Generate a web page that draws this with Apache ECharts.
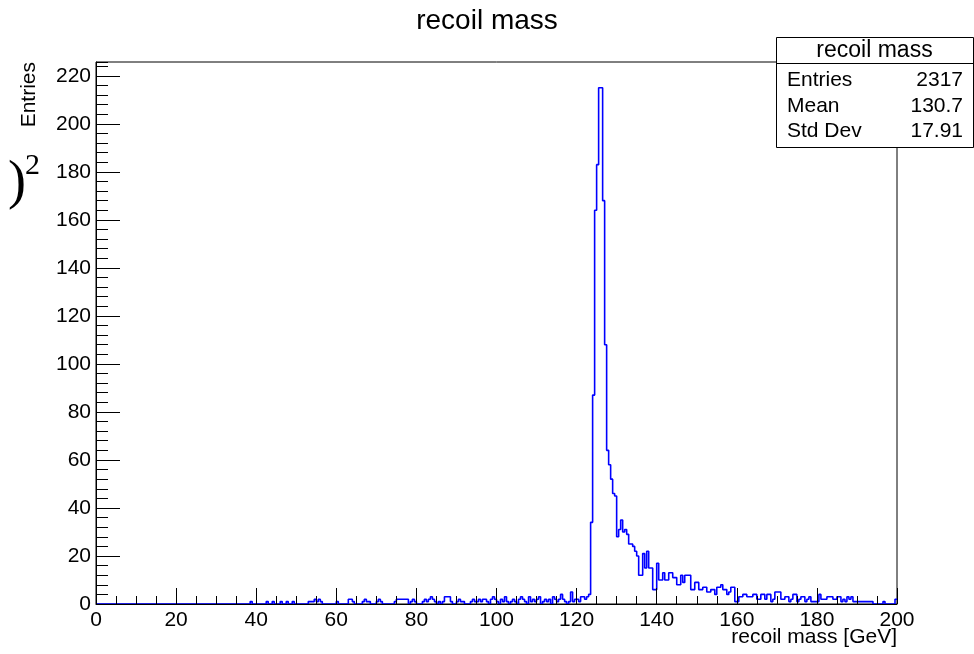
<!DOCTYPE html>
<html>
<head>
<meta charset="utf-8">
<script src="https://cdn.jsdelivr.net/npm/echarts@6/dist/echarts.min.js"></script>
<style>html,body{margin:0;padding:0;background:#fff;}#c{width:974px;height:654px;}</style>
</head>
<body>
<div id="c"></div>
<script>
// Histogram: 400 bins of 0.5 GeV from 0 to 200 GeV
const binWidth = 0.5;
const xStart = 0;
const binCounts = [
  // 0-10
  0,0,0,0,0,0,0,0,0,0,0,0,0,0,0,0,0,0,0,0,
  // 10-20
  0,0,0,0,0,0,0,0,0,0,0,0,0,0,0,0,0,0,0,0,
  // 20-30
  0,0,0,0,0,0,0,0,0,0,0,0,0,0,0,0,0,0,0,0,
  // 30-40
  0,0,0,0,0,0,0,0,0,0,0,0,0,0,0,0,0,1,0,0,
  // 40-50
  0,0,0,0,0,1,0,0,1,0,0,0,1,0,0,1,0,0,1,0,
  // 50-60
  0,0,0,0,0,0,1,1,1,2,1,2,1,0,0,0,0,0,0,0,
  // 60-70
  1,0,0,0,0,0,2,2,1,0,0,0,0,1,2,1,1,0,0,0,
  // 70-80
  1,2,1,0,0,0,0,0,0,1,2,2,2,2,2,2,0,1,2,1,
  // 80-90
  0,0,0,1,2,1,2,3,2,1,0,1,0,1,3,3,3,1,0,0,
  // 90-100
  1,2,1,1,0,0,0,1,2,1,1,2,1,2,2,1,0,2,3,2,
  // 100-110
  1,0,2,1,3,1,0,1,2,1,0,2,3,2,1,0,3,1,2,1,
  // 110-120
  2,3,0,1,2,1,2,0,3,2,1,2,4,2,1,0,1,5,1,2,
  // 120-130
  2,1,3,3,2,3,4,34,87,164,183,215,215,168,108,64,58,52,46,45,
  // 130-140
  28,31,35,30,31,29,25,25,24,22,20,12,12,21,15,22,15,15,6,6,
  // 140-150
  17,10,10,13,10,10,13,13,11,11,8,8,12,9,12,12,12,6,6,9,
  // 150-160
  9,6,6,7,7,5,5,6,6,4,7,7,8,6,6,4,5,7,7,1,
  // 160-170
  1,3,3,4,4,3,3,3,4,4,2,2,4,4,2,4,4,1,2,5,
  // 170-180
  5,5,2,2,3,3,1,2,4,4,1,2,3,3,1,2,3,1,1,1,
  // 180-190
  1,4,2,2,2,3,3,3,2,2,3,3,1,2,1,3,2,3,1,1,
  // 190-200
  1,1,1,1,1,1,1,1,0,0,0,0,0,1,0,0,0,0,0,2
];
const xTickValues = [0,20,40,60,80,100,120,140,160,180,200];
const yTickValues = [0,20,40,60,80,100,120,140,160,180,200,220];
const titleText = 'recoil mass';
const xTitle = 'recoil mass [GeV]';
const yTitle = 'Entries';
const statNames = ['Entries', 'Mean', 'Std Dev'];
const statValues = ['2317', '130.7', '17.91'];

const FONT = 'Liberation Sans';

// step points: (low edge, count), plus the final upper edge
const stepData = binCounts.map((c, i) => [xStart + i * binWidth, c]);
stepData.push([xStart + binCounts.length * binWidth, binCounts[binCounts.length - 1]]);

const chart = echarts.init(document.getElementById('c'), null, {renderer: 'canvas'});

const statGraphics = [];
const boxX = 776, boxY = 37, boxW = 197, boxH = 110;
statGraphics.push({type: 'rect', z: 100, shape: {x: boxX + 0.5, y: boxY + 0.5, width: boxW, height: boxH}, style: {fill: '#fff', stroke: '#000', lineWidth: 1}});
statGraphics.push({type: 'line', z: 101, shape: {x1: boxX, y1: 63.5, x2: boxX + boxW, y2: 63.5}, style: {stroke: '#000', lineWidth: 1}});
statGraphics.push({type: 'text', z: 101, x: boxX + boxW / 2, y: 51, style: {text: titleText, font: '23px ' + FONT, fill: '#000', align: 'center', verticalAlign: 'middle'}});
const rowY = [80, 106, 131];
statNames.forEach((n, i) => {
  statGraphics.push({type: 'text', z: 101, x: 787, y: rowY[i], style: {text: n, font: '21px ' + FONT, fill: '#000', align: 'left', verticalAlign: 'middle'}});
  statGraphics.push({type: 'text', z: 101, x: 963, y: rowY[i], style: {text: statValues[i], font: '21px ' + FONT, fill: '#000', align: 'right', verticalAlign: 'middle'}});
});

const option = {
  animation: false,
  backgroundColor: '#fff',
  title: {
    text: titleText, left: 'center', top: 2,
    textStyle: {fontFamily: FONT, fontSize: 28, fontWeight: 'normal', color: '#000'}
  },
  grid: {left: 96, right: 77, top: 62, bottom: 50, show: true, borderColor: '#000', borderWidth: 1, backgroundColor: 'transparent'},
  xAxis: {
    type: 'value', min: 0, max: 200, interval: 20, z: 5,
    axisLine: {lineStyle: {color: '#000', width: 1}},
    axisTick: {inside: true, length: 16, lineStyle: {color: '#000', width: 1}},
    minorTick: {show: true, splitNumber: 4, length: 8, lineStyle: {color: '#000', width: 1}},
    splitLine: {show: false},
    axisLabel: {fontFamily: FONT, fontSize: 21, color: '#000', margin: 6,
      formatter: v => (xTickValues.indexOf(v) >= 0 ? String(v) : '')}
  },
  yAxis: [{
    type: 'value', min: 0, max: 225.75, interval: 20, z: 5, position: 'left', offset: 0,
    axisLine: {show: true, lineStyle: {color: '#000', width: 1}},
    axisTick: {inside: true, length: 24, lineStyle: {color: '#000', width: 1}},
    splitLine: {show: false},
    axisLabel: {fontFamily: FONT, fontSize: 21, color: '#000', margin: 5, showMaxLabel: false,
      formatter: v => (yTickValues.indexOf(v) >= 0 ? String(v) : '')}
  }, {
    type: 'value', min: 0, max: 225.75, interval: 4, z: 5, position: 'left', offset: 0,
    axisLine: {show: false},
    axisTick: {inside: true, length: 12, lineStyle: {color: '#000', width: 1}},
    splitLine: {show: false},
    axisLabel: {show: false}
  }],
  series: [{
    type: 'line', step: 'end', data: stepData, symbol: 'none', yAxisIndex: 0,
    lineStyle: {color: '#0000ff', width: 1.6}, z: 2, silent: true
  }],
  graphic: [
    {type: 'text', x: 29, y: 62, rotation: Math.PI / 2,
      style: {text: yTitle, font: '21px ' + FONT, fill: '#000', align: 'right', verticalAlign: 'middle'}},
    {type: 'text', x: 897, y: 637,
      style: {text: xTitle, font: '21px ' + FONT, fill: '#000', align: 'right', verticalAlign: 'middle'}},
    {type: 'text', x: 26, y: 184,
      style: {text: ')', font: '54px "Liberation Serif"', fill: '#000', align: 'right', verticalAlign: 'middle'}},
    {type: 'text', x: 25, y: 166,
      style: {text: '2', font: '30px "Liberation Serif"', fill: '#000', align: 'left', verticalAlign: 'middle'}}
  ].concat(statGraphics)
};
chart.setOption(option);
</script>
</body>
</html>
